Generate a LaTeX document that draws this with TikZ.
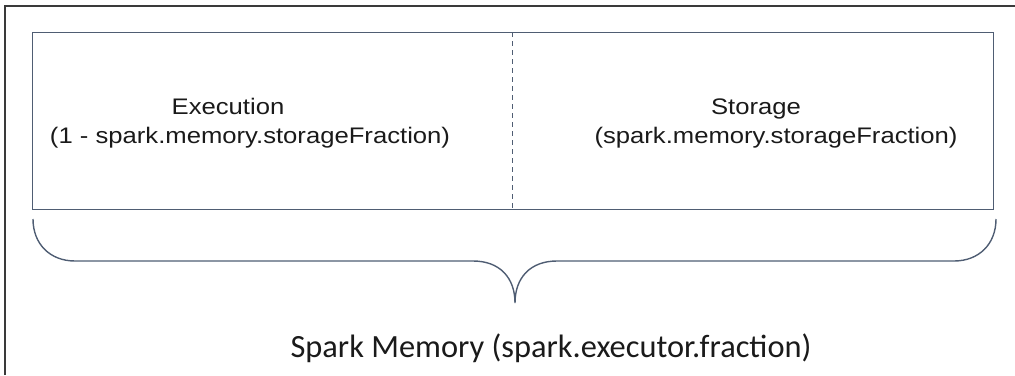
\documentclass[tikz,border=0pt]{standalone}
\usepackage{fontspec}
\usepackage{graphicx}
\setmainfont{Liberation Sans}
\newfontfamily\carlito{Carlito}
\definecolor{boxline}{HTML}{4F5D73}
\definecolor{frameline}{HTML}{3A3A3A}
\definecolor{txt}{HTML}{1A1A1A}
\begin{document}
\begin{tikzpicture}[x=1pt,y=-1pt,
  boxstyle/.style={draw=boxline,line width=1.3pt},
  bracestyle/.style={draw=boxline,line width=1.4pt},
  lbl/.style={text=txt,inner sep=0pt,anchor=base,font=\fontsize{22.5}{27}\selectfont},
  biglbl/.style={text=txt,inner sep=0pt,anchor=base,font=\carlito\fontsize{32.4}{38}\selectfont}]
\useasboundingbox (0,0) rectangle (1015,375);
% outer frame (open to right and bottom)
\draw[frameline,line width=2pt] (5,375) -- (5,6) -- (1015,6);
% memory box
\node[boxstyle,minimum width=961pt,minimum height=177pt,inner sep=0pt,anchor=north west] (mem) at (32,32) {};
\coordinate (divtop) at (512,32);
\coordinate (divbot) at (512,209);
\draw[boxline,line width=1pt,dash pattern=on 5pt off 4pt] (divtop) -- (divbot);
% texts
\node[lbl] (exec1) at (228,114) {\scalebox{1.14}[1]{Execution}};
\node[lbl] (exec2) at (250,143) {\scalebox{1.14}[1]{(1 - spark.memory.storageFraction)}};
\node[lbl] (stor1) at (756,114) {\scalebox{1.14}[1]{Storage}};
\node[lbl] (stor2) at (776,143) {\scalebox{1.14}[1]{(spark.memory.storageFraction)}};
% brace
\coordinate (bl) at (33,219);
\coordinate (br) at (996,219);
\coordinate (tip) at (515,303);
\draw[bracestyle] (bl) .. controls (33,244) and (50,261) .. (75,261)
  -- (473,261) .. controls (500,261) and (515,278) .. (tip)
  .. controls (515,278) and (530,261) .. (557,261)
  -- (954,261) .. controls (979,261) and (996,244) .. (br);
\node[biglbl] (spark) at (551,357) {Spark Memory (spark.executor.fraction)};
\end{tikzpicture}
\end{document}
